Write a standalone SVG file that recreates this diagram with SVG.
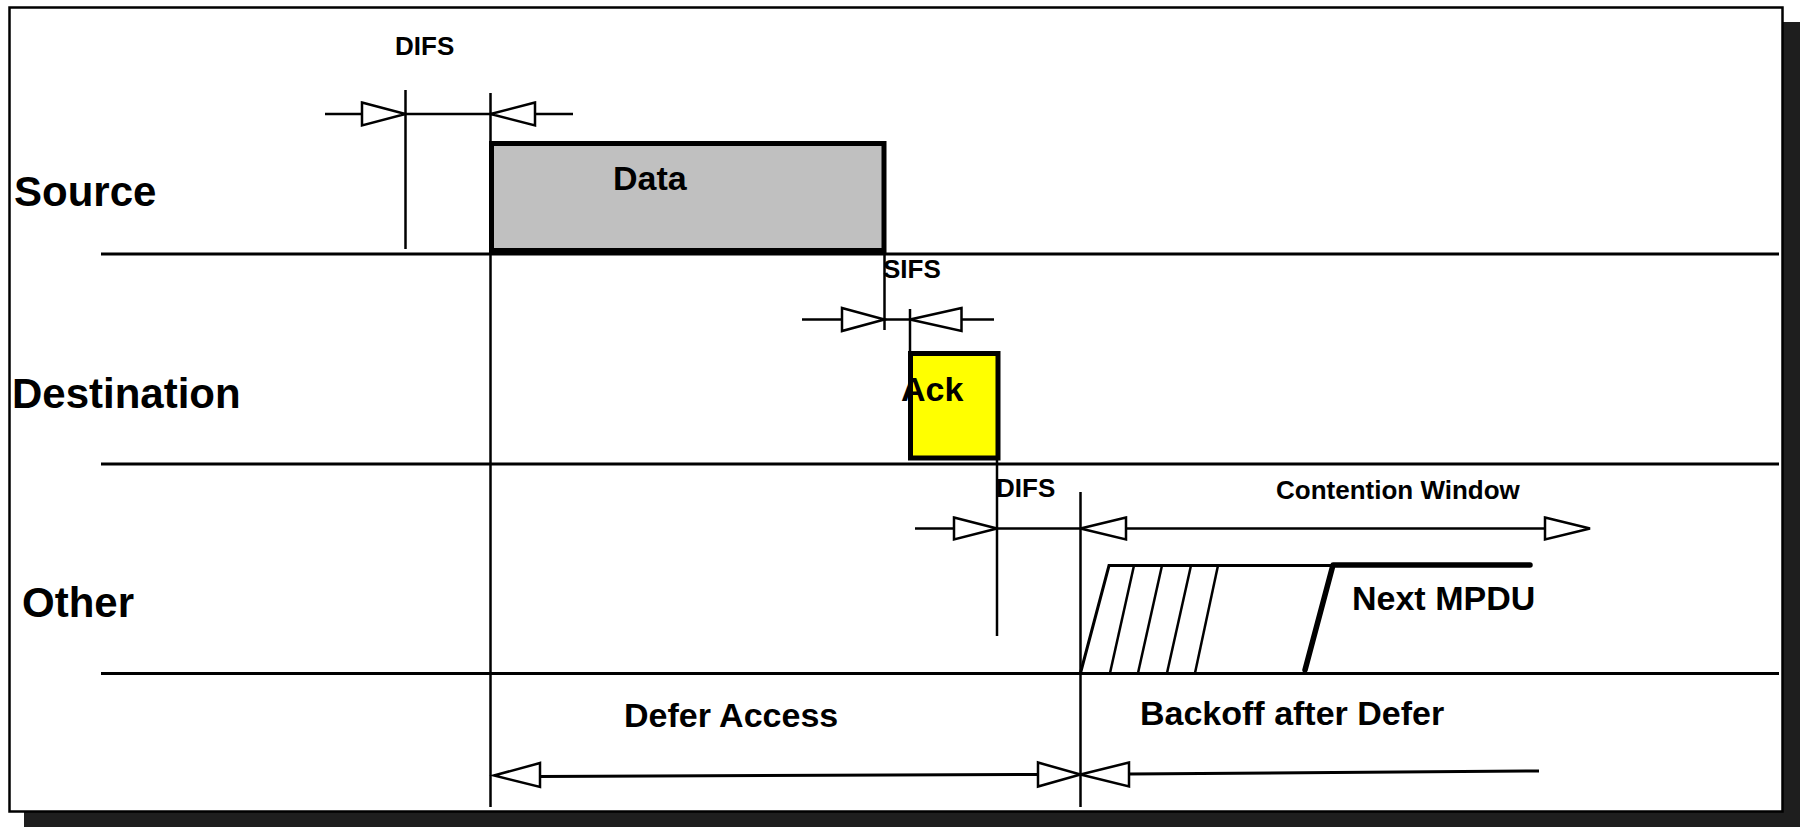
<svg xmlns="http://www.w3.org/2000/svg" width="1800" height="827" viewBox="0 0 1800 827">
<style>
  text { font-family: "Liberation Sans", Arial, sans-serif; font-weight: bold; fill: #000; }
  .lbl { font-size: 42px; }
  .sm { font-size: 26px; }
  .md { font-size: 34px; }
  .ln { stroke: #000; stroke-width: 3; fill: none; }
  .th { stroke: #000; stroke-width: 2.5; fill: none; }
  .tri { stroke: #000; stroke-width: 2.5; fill: #fff; stroke-linejoin: miter; }
</style>
<rect x="0" y="0" width="1800" height="827" fill="#fff"/>
<g id="frame">
  <rect x="24" y="22" width="1776" height="805" fill="#1e1e1e"/>
  <rect x="9.5" y="7.5" width="1773" height="804" fill="#fff" stroke="#000" stroke-width="2.5"/>
</g>
<g id="lane-source">
  <text class="lbl" x="14" y="206">Source</text>
</g>
<g id="lane-destination">
  <text class="lbl" x="12" y="408">Destination</text>
</g>
<g id="lane-other">
  <text class="lbl" x="22" y="617">Other</text>
</g>
<g id="data">
  <rect x="491.5" y="143.5" width="392.5" height="107" fill="#c0c0c0" stroke="#000" stroke-width="5"/>
  <text class="md" x="613" y="190">Data</text>
</g>
<g id="ack">
  <rect x="910.5" y="353.5" width="87.5" height="104.5" fill="#ffff00" stroke="#000" stroke-width="5"/>
  <text class="md" x="901" y="401">Ack</text>
</g>
<g id="next-mpdu">
  <text class="md" x="1352" y="610">Next MPDU</text>
</g>
<g id="labels">
  <text class="sm" x="395" y="55">DIFS</text>
  <text class="sm" x="883" y="278">SIFS</text>
  <text class="sm" x="996" y="497">DIFS</text>
  <text class="sm" x="1276" y="499">Contention Window</text>
  <text class="md" x="624" y="727">Defer Access</text>
  <text class="md" x="1140" y="725">Backoff after Defer</text>
</g>
<g id="connectors">
  <!-- timelines -->
  <line class="ln" x1="101" y1="254" x2="1779" y2="254"/>
  <line class="ln" x1="101" y1="464" x2="1779" y2="464"/>
  <line class="ln" x1="101" y1="673.5" x2="1779" y2="673.5"/>
  <!-- verticals -->
  <line class="th" x1="490.5" y1="93" x2="490.5" y2="807"/>
  <line class="th" x1="405.5" y1="90" x2="405.5" y2="249"/>
  <line class="th" x1="884.5" y1="253" x2="884.5" y2="330"/>
  <line class="th" x1="910" y1="309" x2="910" y2="352"/>
  <line class="th" x1="997" y1="458" x2="997" y2="636"/>
  <line class="th" x1="1080.5" y1="492" x2="1080.5" y2="807"/>
  <!-- top DIFS arrows -->
  <line class="th" x1="325" y1="114" x2="573" y2="114"/>
  <polygon class="tri" points="362,102.5 405.5,114 362,125.5"/>
  <polygon class="tri" points="535,102.5 490.5,114 535,125.5"/>
  <!-- SIFS arrows -->
  <line class="th" x1="802" y1="319.5" x2="994" y2="319.5"/>
  <polygon class="tri" points="842,308 884.5,319.5 842,331"/>
  <polygon class="tri" points="961.5,308 910,319.5 961.5,331"/>
  <!-- lower DIFS / contention window arrows -->
  <line class="th" x1="915" y1="528.5" x2="1545" y2="528.5"/>
  <polygon class="tri" points="954,517.5 997,528.5 954,539.5"/>
  <polygon class="tri" points="1126,517.5 1080.5,528.5 1126,539.5"/>
  <polygon class="tri" points="1545,517.5 1590,528.5 1545,539.5"/>
  <!-- backoff slots -->
  <polyline class="ln" points="1080.5,673 1109,565.5 1333,565.5"/>
  <line class="th" x1="1110" y1="673" x2="1134" y2="565.5"/>
  <line class="th" x1="1138" y1="673" x2="1162" y2="565.5"/>
  <line class="th" x1="1167" y1="673" x2="1191" y2="565.5"/>
  <line class="th" x1="1195" y1="673" x2="1218" y2="565.5"/>
  <polyline points="1305,670 1333,565 1530,565" fill="none" stroke="#000" stroke-width="5.5" stroke-linecap="round" stroke-linejoin="round"/>
  <!-- defer access / backoff arrows -->
  <line class="ln" x1="540" y1="776.5" x2="1038" y2="774.5"/>
  <polygon class="tri" points="540,763 494,775.5 540,787"/>
  <polygon class="tri" points="1038,762.5 1080.5,774.5 1038,786.5"/>
  <polygon class="tri" points="1129,762.5 1080.5,774.5 1129,786.5"/>
  <line class="ln" x1="1129" y1="774" x2="1539" y2="771"/>
</g>
</svg>
